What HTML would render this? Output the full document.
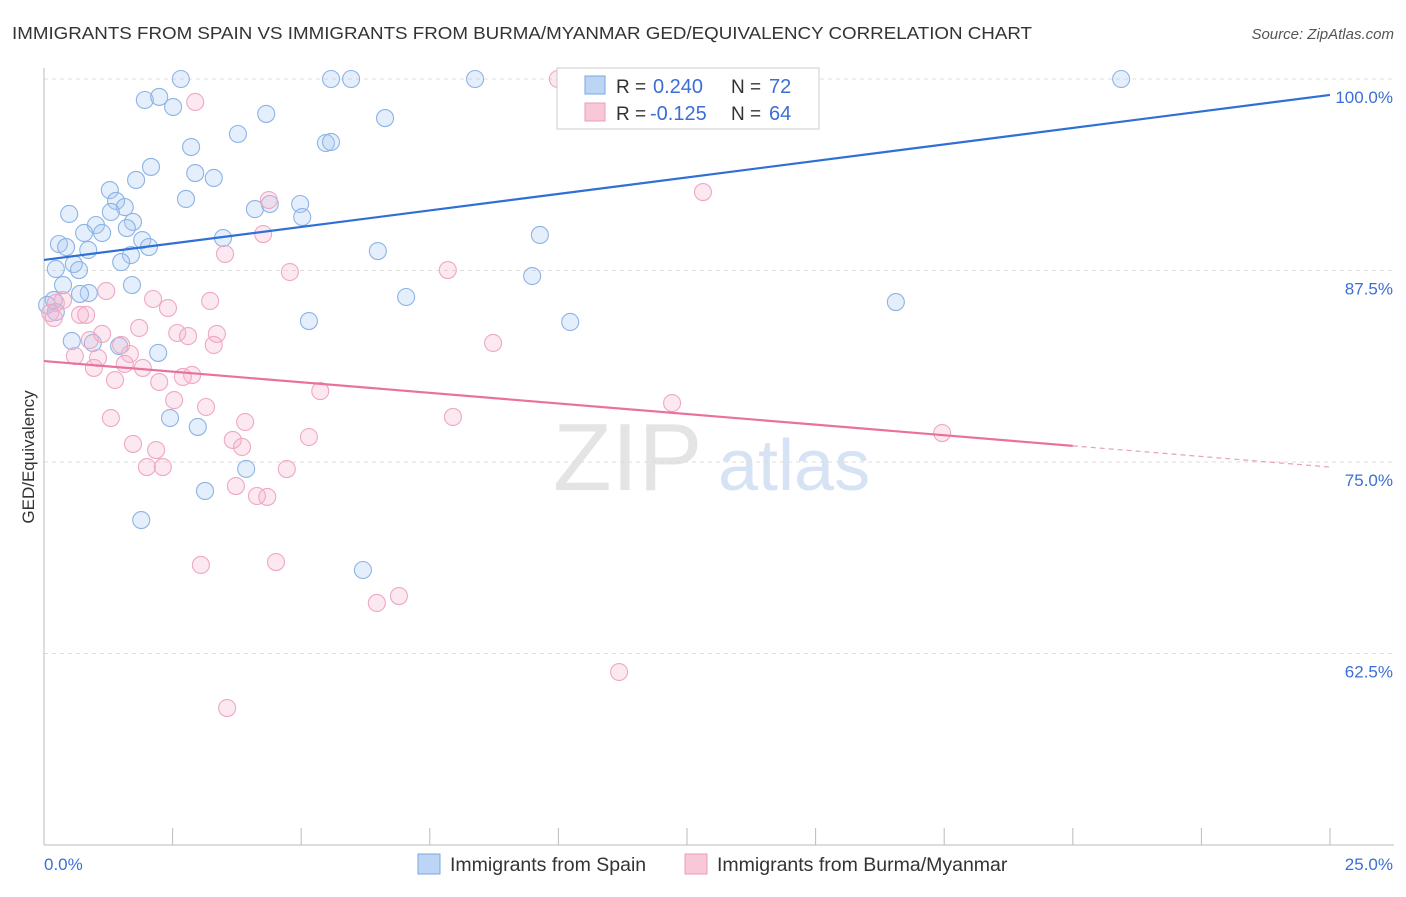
<!DOCTYPE html>
<html><head><meta charset="utf-8"><style>
body{margin:0;background:#fff;font-family:"Liberation Sans",sans-serif;}
svg text{font-family:"Liberation Sans",sans-serif;}
</style></head><body>
<svg id="chart" width="1406" height="892" xmlns="http://www.w3.org/2000/svg">
<text x="12" y="39" font-size="17.5" fill="#333" textLength="1020" lengthAdjust="spacingAndGlyphs">IMMIGRANTS FROM SPAIN VS IMMIGRANTS FROM BURMA/MYANMAR GED/EQUIVALENCY CORRELATION CHART</text>
<text x="1394" y="39" font-size="15" fill="#555" text-anchor="end" font-style="italic">Source: ZipAtlas.com</text>
<g>
<text x="553" y="490" font-size="96" fill="#e4e4e4" font-family="Liberation Serif,serif">ZIP</text>
<text x="718" y="490" font-size="72" fill="#d6e3f4">atlas</text>
</g>
<g id="grid"></g>
<g id="axes"></g>
<g id="pts"></g>
<g id="lines"></g>
<text transform="translate(34,457) rotate(-90)" font-size="17" fill="#333" text-anchor="middle">GED/Equivalency</text>
<g>
<rect x="557" y="68" width="262" height="61" fill="#fff" stroke="#ccc"/>
<rect x="585" y="76" width="20" height="18" fill="#bcd5f5" stroke="#7aa7e0"/>
<rect x="585" y="103" width="20" height="18" fill="#f8c8d9" stroke="#eb9cbb"/>
<text x="616" y="93" font-size="19" fill="#333">R =</text>
<text x="653" y="93" font-size="20" fill="#3b6fd6">0.240</text>
<text x="731" y="93" font-size="19" fill="#333">N =</text>
<text x="769" y="93" font-size="20" fill="#3b6fd6">72</text>
<text x="616" y="120" font-size="19" fill="#333">R =</text>
<text x="650" y="120" font-size="20" fill="#3b6fd6">-0.125</text>
<text x="731" y="120" font-size="19" fill="#333">N =</text>
<text x="769" y="120" font-size="20" fill="#3b6fd6">64</text>
</g>
<g>
<rect x="418" y="854" width="22" height="20" fill="#bcd5f5" stroke="#7aa7e0"/>
<text x="450" y="871" font-size="19.5" fill="#333">Immigrants from Spain</text>
<rect x="685" y="854" width="22" height="20" fill="#f8c8d9" stroke="#eb9cbb"/>
<text x="717" y="871" font-size="19.5" fill="#333">Immigrants from Burma/Myanmar</text>
</g>
</svg>
<script>
const yTicks=[100,87.5,75,62.5];
const yTickLabels=["100.0%","87.5%","75.0%","62.5%"];
const xTickVals=[0,2.5,5,7.5,10,12.5,15,17.5,20,22.5,25];
const xEndLabels=["0.0%","25.0%"];
const spainX=[2.66,5.58,5.97,8.38,20.94,11.97,1.96,2.24,2.51,4.32,6.63,3.77,2.86,5.48,5.58,2.08,2.94,3.30,1.79,1.28,2.76,1.40,4.39,4.98,1.57,0.49,1.30,4.10,5.02,1.73,1.01,1.61,0.78,1.13,3.48,9.64,0.29,0.43,1.91,2.04,0.86,1.69,1.50,6.49,0.23,0.58,0.68,9.49,0.37,1.71,0.87,0.70,7.04,16.56,0.19,0.06,0.23,5.15,10.23,0.54,0.95,1.46,2.22,2.45,2.99,3.93,3.13,1.89,6.20];
const spainY=[100,100,100,100,100,100,98.63,98.83,98.17,97.72,97.45,96.41,95.56,95.82,95.89,94.26,93.86,93.54,93.41,92.75,92.17,92.04,91.84,91.84,91.64,91.19,91.32,91.51,90.99,90.67,90.47,90.27,89.95,89.95,89.62,89.82,89.23,89.03,89.49,89.03,88.84,88.51,88.05,88.77,87.60,87.92,87.53,87.14,86.55,86.55,86.03,85.97,85.77,85.44,85.57,85.25,84.79,84.20,84.14,82.90,82.77,82.57,82.12,77.87,77.29,74.55,73.11,71.21,67.95];
const burmaX=[9.99,2.94,4.37,12.81,4.26,3.52,4.78,7.85,1.21,2.12,3.23,2.41,0.37,0.23,0.12,0.70,0.82,0.19,1.85,2.59,2.80,3.36,1.13,3.30,0.89,8.73,1.50,1.67,0.60,1.05,1.92,0.97,2.88,2.70,1.57,1.38,2.24,5.37,2.53,3.15,12.21,7.95,1.30,3.91,17.46,5.15,3.67,3.85,1.73,2.18,2.00,2.31,4.72,3.73,4.14,4.34,3.05,4.51,6.47,6.90,11.18,3.56];
const burmaY=[100,98.50,92.10,92.62,89.88,88.58,87.40,87.53,86.16,85.64,85.51,85.05,85.57,85.38,84.73,84.60,84.60,84.40,83.75,83.42,83.22,83.36,83.36,82.64,82.96,82.77,82.64,82.05,81.92,81.79,81.14,81.14,80.68,80.55,81.40,80.35,80.22,79.63,79.04,78.59,78.85,77.94,77.87,77.61,76.89,76.63,76.44,75.98,76.18,75.78,74.67,74.67,74.54,73.43,72.78,72.72,68.28,68.47,65.80,66.25,61.29,58.94];
const spainTrend=[88.19,98.96];
const burmaTrend=[81.59,74.67];
const burmaSolidEnd=20;
const NS="http://www.w3.org/2000/svg";
const X=v=>44+v/25*1286;
const Y=v=>79+(100-v)/12.5*191.5;
function mk(t,a,p){const e=document.createElementNS(NS,t);for(const k in a)e.setAttribute(k,a[k]);document.getElementById(p).appendChild(e);return e;}
yTicks.forEach((t,i)=>{
 const l=mk('line',{x1:44,x2:1394,y1:Y(t),y2:Y(t),stroke:'#ddd','stroke-dasharray':'4 4'},'grid');
 
 
 const tx=mk('text',{x:1393,y:Y(t)+24,'font-size':17,fill:'#3b6fd6','text-anchor':'end'},'axes');
 tx.textContent=yTickLabels[i];
 
 
});
const ax=mk('line',{x1:44,x2:1394,y1:845,y2:845,stroke:'#bbb'},'axes');


const ay=mk('line',{x1:44,x2:44,y1:68,y2:845,stroke:'#bbb'},'axes');


xTickVals.forEach(v=>{
 const t=mk('line',{x1:X(v),x2:X(v),y1:828,y2:845,stroke:'#bbb'},'axes');
 
 
});
[[0,'start'],[25,'end']].forEach(([v,a],i)=>{
 const t=mk('text',{x:X(v)+(i?63:0),y:870,'font-size':17,fill:'#3b6fd6','text-anchor':a},'axes');
 t.textContent=xEndLabels[i];
 
 
});
spainX.forEach((x,i)=>{
 const c=mk('circle',{cx:X(x),cy:Y(spainY[i]),r:8.5,fill:'rgba(170,202,242,0.3)',stroke:'#8cb3e6','stroke-width':1.1},'pts');
 
 
});
burmaX.forEach((x,i)=>{
 const c=mk('circle',{cx:X(x),cy:Y(burmaY[i]),r:8.5,fill:'rgba(246,180,206,0.3)',stroke:'#eea8c3','stroke-width':1.1},'pts');
 
 
});
const bl=mk('line',{x1:X(0),y1:Y(spainTrend[0]),x2:X(25),y2:Y(spainTrend[1]),stroke:'#2f6fd6','stroke-width':2.2},'lines');


const by=v=>burmaTrend[0]+(burmaTrend[1]-burmaTrend[0])*v/25;
const pl=mk('line',{x1:X(0),y1:Y(by(0)),x2:X(burmaSolidEnd),y2:Y(by(burmaSolidEnd)),stroke:'#e8729c','stroke-width':2.2},'lines');


const pd=mk('line',{x1:X(burmaSolidEnd),y1:Y(by(burmaSolidEnd)),x2:X(25),y2:Y(by(25)),stroke:'#e8a0b8','stroke-width':1.2,'stroke-dasharray':'5 4'},'lines');


</script>
</body></html>
